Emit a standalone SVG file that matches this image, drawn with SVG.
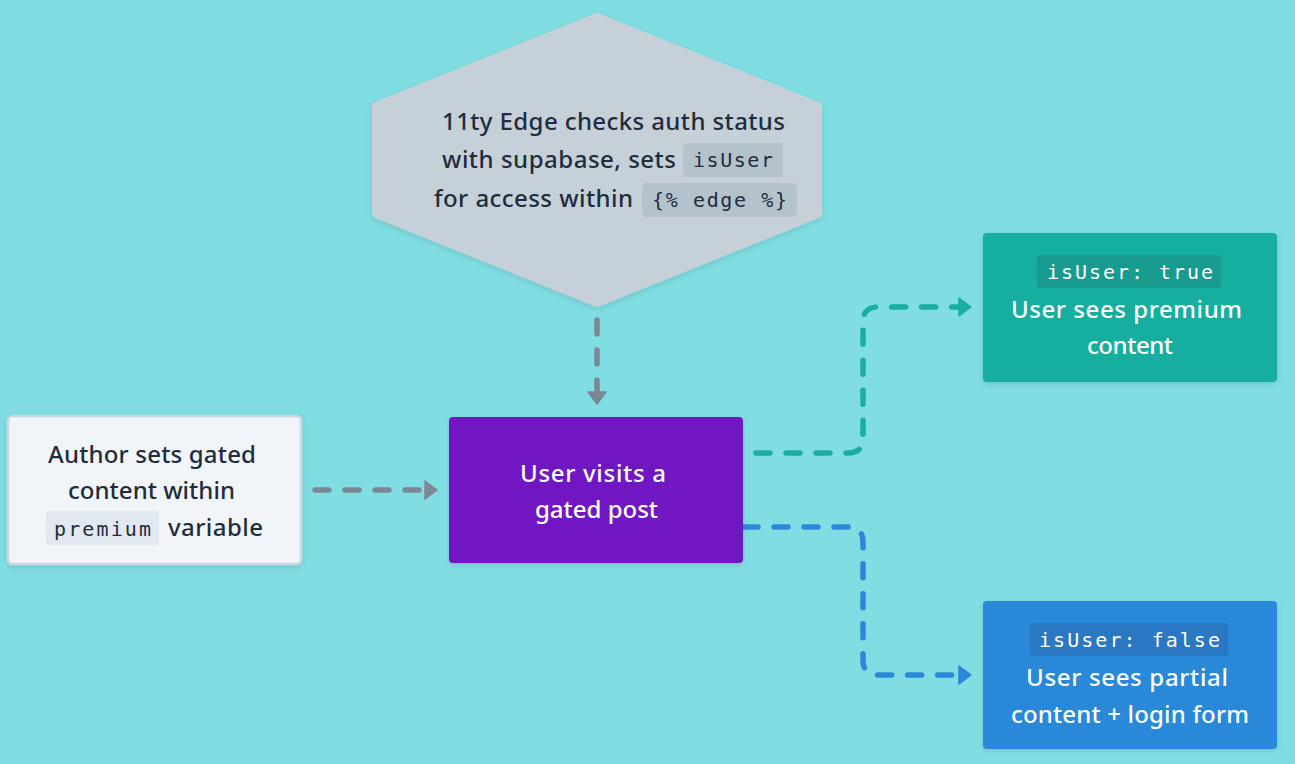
<svg xmlns="http://www.w3.org/2000/svg" width="1295" height="764" viewBox="0 0 1295 764">
<style>
.sans{font-family:"Noto Sans","Liberation Sans",sans-serif;font-size:24px;font-weight:500}
.mono{font-family:"DejaVu Sans Mono","Liberation Mono",monospace;font-size:20px}
.dark{fill:#1f2d3d}
.white{fill:#ffffff}
.conn{fill:none;stroke-width:5.5;stroke-linecap:round;stroke-linejoin:round;stroke-dasharray:14 16}
</style>
<defs>
<filter id="sh" x="-10%" y="-10%" width="120%" height="130%">
<feDropShadow dx="0" dy="2" stdDeviation="3" flood-color="#000" flood-opacity="0.12"/>
</filter>
<marker id="ag" viewBox="0 0 14 20" refX="1" refY="10" markerWidth="14" markerHeight="20" markerUnits="userSpaceOnUse" orient="auto">
<path d="M1,1 L13,10 L1,19 z" fill="#7b8794" stroke="#7b8794" stroke-width="1.5" stroke-linejoin="round"/>
</marker>
<marker id="at" viewBox="0 0 14 20" refX="1" refY="10" markerWidth="14" markerHeight="20" markerUnits="userSpaceOnUse" orient="auto">
<path d="M1,1 L13,10 L1,19 z" fill="#19ae9f" stroke="#19ae9f" stroke-width="1.5" stroke-linejoin="round"/>
</marker>
<marker id="ab" viewBox="0 0 14 20" refX="1" refY="10" markerWidth="14" markerHeight="20" markerUnits="userSpaceOnUse" orient="auto">
<path d="M1,1 L13,10 L1,19 z" fill="#2c88d9" stroke="#2c88d9" stroke-width="1.5" stroke-linejoin="round"/>
</marker>
</defs>
<rect x="0" y="0" width="1295" height="764" fill="#80dee2"/>

<g id="connectors">
<path class="conn" stroke="#7b8794" d="M597,320 V392" marker-end="url(#ag)"/>
<path class="conn" stroke="#7b8794" d="M315,490 H425" marker-end="url(#ag)"/>
<path class="conn" stroke="#19ae9f" d="M756,453 H848 Q863,453 863,438 V322 Q863,307 878,307 H959" marker-end="url(#at)"/>
<path class="conn" stroke="#2c88d9" d="M744,527 H848 Q863,527 863,542 V660 Q863,675 878,675 H959" marker-end="url(#ab)"/>
</g>

<g id="edge-check">
<polygon points="597,17 818,106 818,214 597,303 376,214 376,106" fill="#c5d0d9" stroke="#c5d0d9" stroke-width="8" stroke-linejoin="round" filter="url(#sh)"/>
<text class="sans dark" x="442" y="130" textLength="343" lengthAdjust="spacing">11ty Edge checks auth status</text>
<text class="sans dark" x="442" y="168" textLength="234" lengthAdjust="spacing">with supabase, sets</text>
<rect x="683" y="143" width="100" height="34" rx="4" fill="#b4c2cc"/>
<text class="mono dark" x="693" y="167" textLength="80" lengthAdjust="spacing">isUser</text>
<text class="sans dark" x="434" y="207" textLength="199" lengthAdjust="spacing">for access within</text>
<rect x="642" y="183" width="155" height="34" rx="4" fill="#b4c2cc"/>
<text class="mono dark" x="652" y="207" textLength="135" lengthAdjust="spacing">{% edge %}</text>
</g>

<g id="author">
<rect x="8" y="416" width="293" height="148" rx="4" fill="#f1f5f9" stroke="#cbd5e1" stroke-width="2.5" filter="url(#sh)"/>
<text class="sans dark" x="48" y="463" textLength="208" lengthAdjust="spacing">Author sets gated</text>
<text class="sans dark" x="68" y="499" textLength="167" lengthAdjust="spacing">content within</text>
<rect x="46" y="511" width="113" height="34" rx="4" fill="#e2e8f0"/>
<text class="mono dark" x="54" y="536" textLength="97" lengthAdjust="spacing">premium</text>
<text class="sans dark" x="168" y="536" textLength="95" lengthAdjust="spacing">variable</text>
</g>

<g id="visit">
<rect x="449" y="417" width="294" height="146" rx="4" fill="#7119c3" filter="url(#sh)"/>
<text class="sans white" x="520" y="482" textLength="146" lengthAdjust="spacing">User visits a</text>
<text class="sans white" x="535" y="518" textLength="123" lengthAdjust="spacing">gated post</text>
</g>

<g id="premium">
<rect x="983" y="233" width="294" height="149" rx="4" fill="#19ae9f" filter="url(#sh)"/>
<rect x="1037" y="255" width="184" height="33" rx="4" fill="#179b8e"/>
<text class="mono white" x="1047" y="279" textLength="166" lengthAdjust="spacing">isUser: true</text>
<text class="sans white" x="1011" y="318" textLength="231" lengthAdjust="spacing">User sees premium</text>
<text class="sans white" x="1087" y="354" textLength="86" lengthAdjust="spacing">content</text>
</g>

<g id="partial">
<rect x="983" y="601" width="294" height="148" rx="4" fill="#2c88d9" filter="url(#sh)"/>
<rect x="1030" y="623" width="198" height="33" rx="4" fill="#2a77c4"/>
<text class="mono white" x="1039" y="647" textLength="181" lengthAdjust="spacing">isUser: false</text>
<text class="sans white" x="1026" y="686" textLength="202" lengthAdjust="spacing">User sees partial</text>
<text class="sans white" x="1011" y="723" textLength="238" lengthAdjust="spacing">content + login form</text>
</g>
</svg>
